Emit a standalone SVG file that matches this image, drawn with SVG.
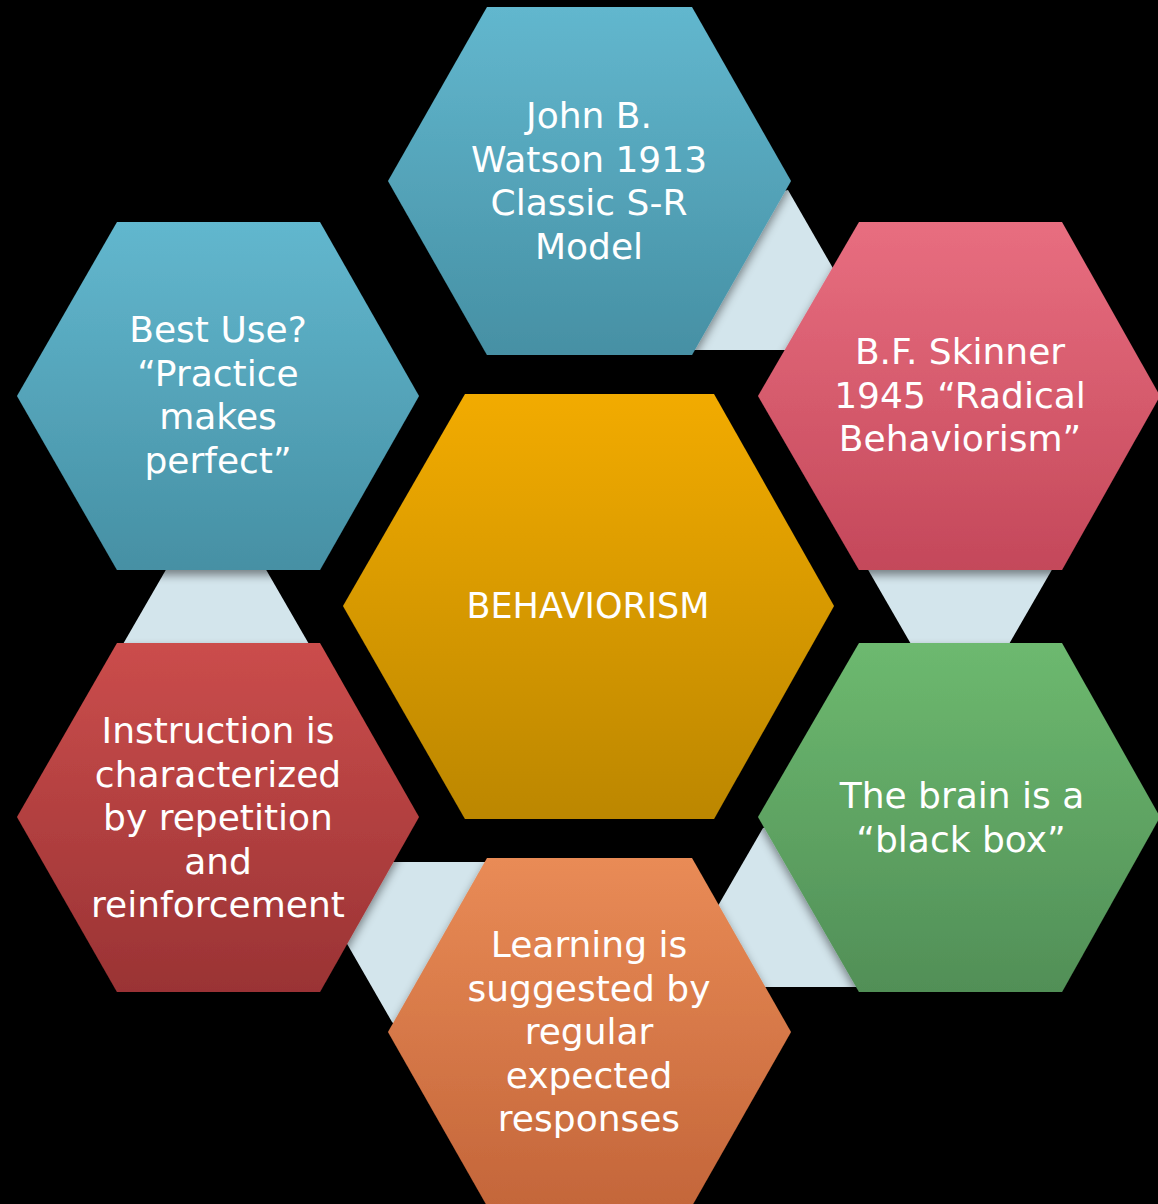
<svg xmlns="http://www.w3.org/2000/svg" width="1158" height="1204" viewBox="0 0 1158 1204">
  <defs>
    <linearGradient id="gBlue" x1="0" y1="0" x2="0" y2="1">
      <stop offset="0" stop-color="#62B7CE"/>
      <stop offset="1" stop-color="#4690A4"/>
    </linearGradient>
    <linearGradient id="gPink" x1="0" y1="0" x2="0" y2="1">
      <stop offset="0" stop-color="#E86E80"/>
      <stop offset="1" stop-color="#C4485A"/>
    </linearGradient>
    <linearGradient id="gGreen" x1="0" y1="0" x2="0" y2="1">
      <stop offset="0" stop-color="#6DB96F"/>
      <stop offset="1" stop-color="#518F57"/>
    </linearGradient>
    <linearGradient id="gOrange" x1="0" y1="0" x2="0" y2="1">
      <stop offset="0" stop-color="#E98B56"/>
      <stop offset="1" stop-color="#C4663A"/>
    </linearGradient>
    <linearGradient id="gRed" x1="0" y1="0" x2="0" y2="1">
      <stop offset="0" stop-color="#CB4D4C"/>
      <stop offset="1" stop-color="#9A3334"/>
    </linearGradient>
    <linearGradient id="gGold" x1="0" y1="0" x2="0" y2="1">
      <stop offset="0" stop-color="#F2AB00"/>
      <stop offset="1" stop-color="#BC8700"/>
    </linearGradient>
    <filter id="shadow" x="-10%" y="-10%" width="120%" height="125%">
      <feDropShadow dx="0" dy="5" stdDeviation="5" flood-color="#000" flood-opacity="0.45"/>
    </filter>
  </defs>
  <style>
    .hex { filter: url(#shadow); }
    .conn { fill: #D3E5EC; }
    .lbl { font-family: "DejaVu Sans", "Liberation Sans", sans-serif; font-size: 36px; fill: #FFFFFF; text-anchor: middle; }
  </style>
  <rect x="0" y="0" width="1158" height="1204" fill="#000000"/>

  <g id="connectors">
    <polygon class="conn" points="788,190 880,350 685,350 775,193"/>
    <polygon class="conn" points="863.6,562 1056.4,562 960,729"/>
    <polygon class="conn" points="763,828 775,826 870,987 671,987"/>
    <polygon class="conn" points="300,862 500,862 400,1030 392,1022"/>
    <polygon class="conn" points="216,483 312.4,650 119.6,650"/>
  </g>

  <g id="node-watson">
    <polygon class="hex" fill="url(#gBlue)" points="388,181 487,7 692,7 791,181 692,355 487,355"/>
    <text class="lbl"><tspan x="589" y="128">John B.</tspan><tspan x="589" y="171.5">Watson 1913</tspan><tspan x="589" y="215">Classic S-R</tspan><tspan x="589" y="258.5">Model</tspan></text>
  </g>

  <g id="node-skinner">
    <polygon class="hex" fill="url(#gPink)" points="758,396 859,222 1062,222 1160,396 1062,570 859,570"/>
    <text class="lbl"><tspan x="960" y="364">B.F. Skinner</tspan><tspan x="960" y="407.5">1945 “Radical</tspan><tspan x="960" y="451">Behaviorism”</tspan></text>
  </g>

  <g id="node-brain">
    <polygon class="hex" fill="url(#gGreen)" points="758,817 859,643 1062,643 1160,817 1062,992 859,992"/>
    <text class="lbl"><tspan x="962" y="808">The brain is a</tspan><tspan x="961" y="851.5">“black box”</tspan></text>
  </g>

  <g id="node-learning">
    <polygon class="hex" fill="url(#gOrange)" points="388,1032 487,858 692,858 791,1032 692,1206 487,1206"/>
    <text class="lbl"><tspan x="589" y="957">Learning is</tspan><tspan x="589" y="1000.5">suggested by</tspan><tspan x="589" y="1044">regular</tspan><tspan x="589" y="1087.5">expected</tspan><tspan x="589" y="1131">responses</tspan></text>
  </g>

  <g id="node-instruction">
    <polygon class="hex" fill="url(#gRed)" points="17,817 117,643 320,643 419,817 320,992 117,992"/>
    <text class="lbl"><tspan x="218" y="743">Instruction is</tspan><tspan x="218" y="786.5">characterized</tspan><tspan x="218" y="830">by repetition</tspan><tspan x="218" y="873.5">and</tspan><tspan x="218" y="917">reinforcement</tspan></text>
  </g>

  <g id="node-bestuse">
    <polygon class="hex" fill="url(#gBlue)" points="17,396 117,222 320,222 419,396 320,570 117,570"/>
    <text class="lbl"><tspan x="218" y="342">Best Use?</tspan><tspan x="218" y="385.5">“Practice</tspan><tspan x="218" y="429">makes</tspan><tspan x="218" y="472.5">perfect”</tspan></text>
  </g>

  <g id="node-center">
    <polygon class="hex" fill="url(#gGold)" points="343,606 465,394 714,394 834,606 714,819 465,819"/>
    <text class="lbl" style="font-size:35px"><tspan x="588" y="618">BEHAVIORISM</tspan></text>
  </g>
</svg>
